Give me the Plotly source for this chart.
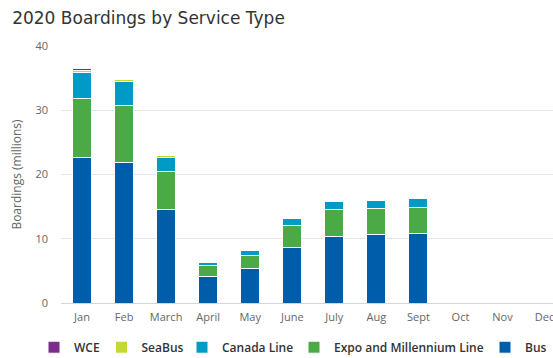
import plotly.graph_objects as go

months = ["Jan", "Feb", "March", "April", "May", "June", "July", "Aug", "Sept", "Oct", "Nov", "Dec"]
bus = [22.7, 21.8, 14.6, 4.1, 5.3, 8.6, 10.35, 10.6, 10.85, None, None, None]
expo_millennium = [9.2, 8.9, 5.8, 1.7, 2.15, 3.4, 4.15, 4.05, 4.05, None, None, None]
canada_line = [3.9, 3.7, 2.3, 0.5, 0.75, 1.1, 1.3, 1.3, 1.4, None, None, None]
seabus = [0.45, 0.35, 0.2, 0.03, 0.04, 0.05, 0.06, 0.06, 0.06, None, None, None]
wce = [0.3, 0.1, 0.08, 0.02, 0.02, 0.02, 0.03, 0.03, 0.03, None, None, None]

series = [
    ("Bus", bus, "#005DAA"),
    ("Expo and Millennium Line", expo_millennium, "#4BA946"),
    ("Canada Line", canada_line, "#009AC7"),
    ("SeaBus", seabus, "#C3D92E"),
    ("WCE", wce, "#7B2D8E"),
]

# each trace gets its own legend box so items sit where the reference puts them
legend_ids = ["legend5", "legend4", "legend3", "legend2", "legend"]
legend_left_px = [485, 294, 182, 101.5, 34]

PLOT_L, PLOT_W = 61, 492

fig = go.Figure()
for (name, vals, color), lid in zip(series, legend_ids):
    fig.add_trace(go.Bar(
        x=months, y=vals, name=name, legend=lid,
        marker=dict(color=color, line=dict(color="#ffffff", width=1)),
    ))

legend_style = dict(orientation="h", xanchor="left", y=-0.172, yanchor="middle",
                    font=dict(family="Open Sans", size=12, color="#333333", weight=600),
                    itemclick=False, itemdoubleclick=False, bgcolor="rgba(0,0,0,0)")
legends = {}
for lid, left in zip(legend_ids, legend_left_px):
    legends[lid] = dict(legend_style, x=(left - PLOT_L) / PLOT_W)

fig.update_layout(
    width=553, height=358,
    barmode="stack", bargap=0.55,
    paper_bgcolor="#ffffff", plot_bgcolor="#ffffff",
    margin=dict(l=PLOT_L, r=0, t=46, b=55, autoexpand=False),
    font=dict(family="DejaVu Sans", color="#666666", size=11),
    title=dict(text="2020 Boardings by Service Type", x=0.022, xanchor="left",
               y=0.95, yanchor="middle",
               font=dict(family="DejaVu Sans", size=17, color="#333333")),
    showlegend=True,
    **legends,
)
fig.update_xaxes(range=[-0.5, 11.2], showgrid=False, showline=True, linecolor="#ccd6eb",
                 linewidth=1, ticks="", ticklabelstandoff=4,
                 tickfont=dict(size=11, color="#666666", family="Open Sans"),
                 fixedrange=True)
fig.update_yaxes(range=[0, 40], dtick=10, showgrid=True, gridcolor="#e6e6e6", zeroline=False,
                 showline=False, ticks="", ticklabelstandoff=12,
                 tickfont=dict(size=11, color="#666666", family="Open Sans"),
                 title=dict(text="Boardings (millions)", standoff=11,
                            font=dict(size=12, color="#666666", family="Open Sans")),
                 fixedrange=True)

fig.write_html("out.html", config={"displayModeBar": False},
               post_script="document.body.style.margin='0';")
